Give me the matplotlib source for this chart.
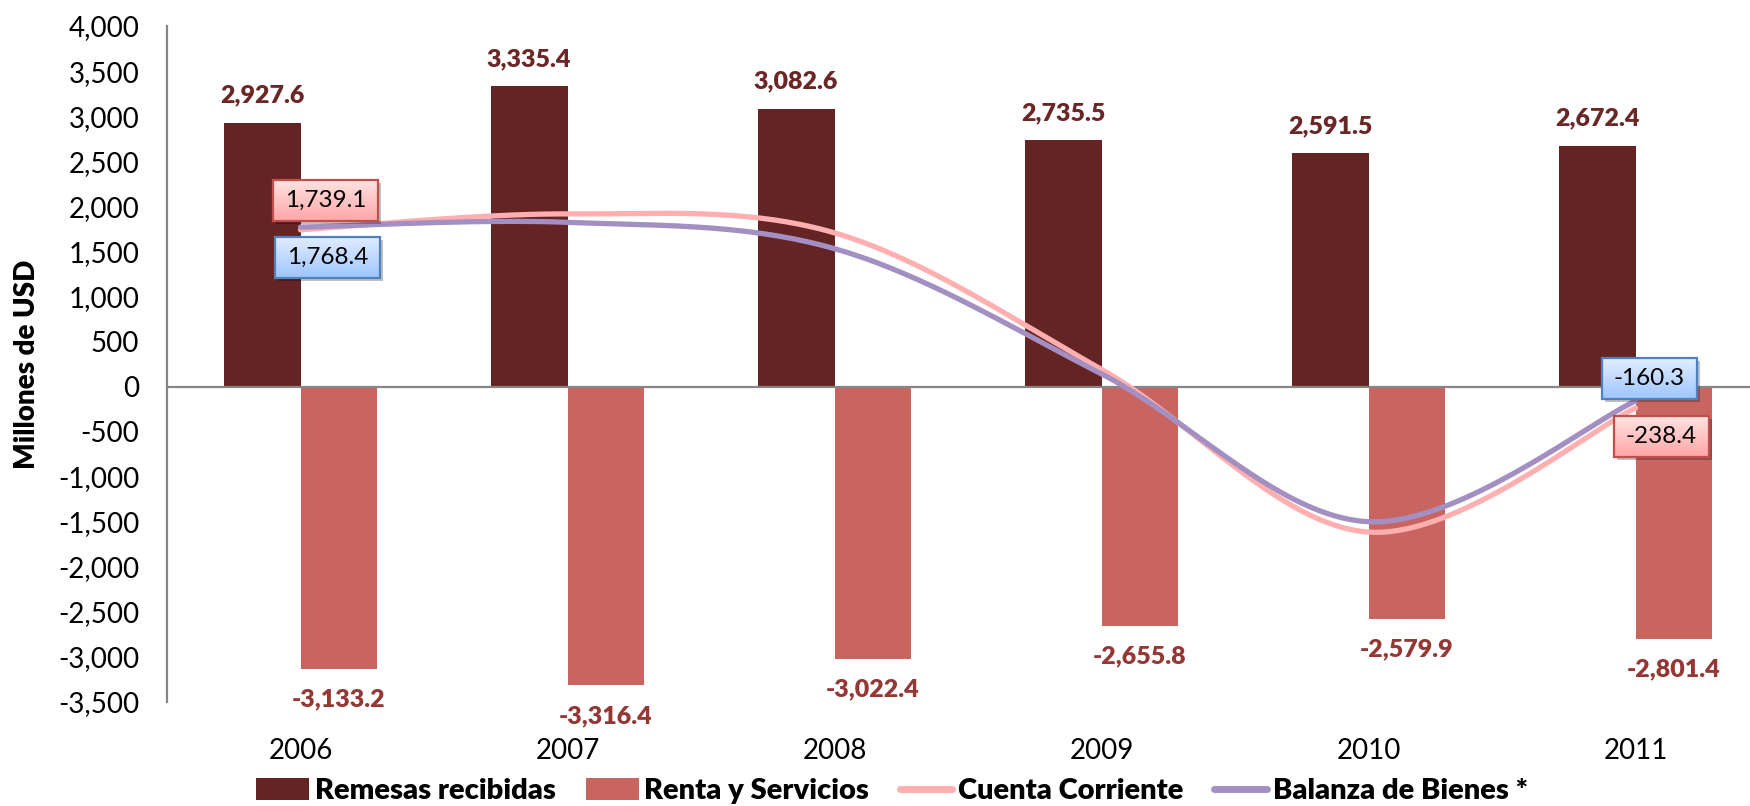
import numpy as np
import matplotlib
matplotlib.use("Agg")
import matplotlib.pyplot as plt
from matplotlib.patches import Patch, Rectangle
from matplotlib.lines import Line2D
from matplotlib.ticker import FuncFormatter, MultipleLocator

plt.rcParams['font.family'] = ['Lato', 'DejaVu Sans']

# ---- data ----
years = ['2006', '2007', '2008', '2009', '2010', '2011']
remesas = [2927.6, 3335.4, 3082.6, 2735.5, 2591.5, 2672.4]
renta = [-3133.2, -3316.4, -3022.4, -2655.8, -2579.9, -2801.4]
cuenta = [1739.1, 1915.0, 1705.0, 190.0, -1615.0, -238.4]
balanza = [1768.4, 1822.0, 1530.0, 140.0, -1500.0, -160.3]
series_names = ['Remesas recibidas', 'Renta y Servicios', 'Cuenta Corriente', 'Balanza de Bienes *']

# ---- style ----
C_DARK = '#632423'
C_LIGHT = '#C86561'
C_PINK = '#FFAFAF'
C_PURPLE = '#A48FC2'
C_LBL1 = '#6B2726'
C_LBL2 = '#953735'
GRAY = '#868686'

W, H = 1750, 806
fig = plt.figure(figsize=(W / 100, H / 100), dpi=100)
fig.patch.set_facecolor('white')
ax = fig.add_axes([167 / W, (806 - 702) / H, 1602 / W, 676 / H])

x = np.arange(len(years))
bw = 0.288
ax.bar(x - bw, remesas, width=bw, align='edge', color=C_DARK, zorder=2)
ax.bar(x, renta, width=bw, align='edge', color=C_LIGHT, zorder=2)
ax.axhline(0, color=GRAY, lw=1.6, zorder=3)


def excel_smooth(xs, ys, n=40):
    P = np.column_stack([xs, ys]).astype(float)
    out = []
    for i in range(len(P) - 1):
        p0 = P[i - 1] if i > 0 else P[i]
        p1 = P[i]
        p2 = P[i + 1]
        p3 = P[i + 2] if i + 2 < len(P) else P[i + 1]
        c1 = p1 + (p2 - p0) / 6.0
        c2 = p2 - (p3 - p1) / 6.0
        t = np.linspace(0, 1, n)[:, None]
        seg = ((1 - t) ** 3) * p1 + 3 * ((1 - t) ** 2) * t * c1 + 3 * (1 - t) * t ** 2 * c2 + t ** 3 * p2
        out.append(seg if i == 0 else seg[1:])
    return np.vstack(out)


sc = excel_smooth(x, cuenta)
sb = excel_smooth(x, balanza)
ax.plot(sc[:, 0], sc[:, 1], color=C_PINK, lw=3.8, solid_capstyle='round', zorder=4)
ax.plot(sb[:, 0], sb[:, 1], color=C_PURPLE, lw=3.8, solid_capstyle='round', zorder=4)

ax.set_xlim(-0.5, 5.5)
ax.set_ylim(-3500, 4000)
ax.yaxis.set_major_locator(MultipleLocator(500))
ax.yaxis.set_major_formatter(FuncFormatter(lambda v, p: f"{v:,.0f}"))
ax.set_xticks(x)
ax.set_xticklabels(years)
ax.tick_params(axis='y', length=0, pad=20, labelsize=20, labelcolor='black')
ax.tick_params(axis='x', length=0, pad=26, labelsize=20, labelcolor='black')
for s in ['top', 'right', 'bottom']:
    ax.spines[s].set_visible(False)
ax.spines['left'].set_color(GRAY)
ax.spines['left'].set_linewidth(1.6)
ax.set_facecolor('white')

ax.set_ylabel('Millones de USD', fontsize=20, fontweight='heavy')
ax.yaxis.set_label_coords(-0.079, 0.5)

# bar value labels
for xi, v in zip(x, remesas):
    ax.annotate(f"{v:,.1f}", (xi - bw / 2, v), xytext=(0, 19.5), textcoords='offset points',
                ha='center', va='center', fontsize=18, fontweight='heavy', color=C_LBL1, zorder=6)
for xi, v in zip(x, renta):
    ax.annotate(f"{v:,.1f}", (xi + bw / 2, v), xytext=(0, -22), textcoords='offset points',
                ha='center', va='center', fontsize=18, fontweight='heavy', color=C_LBL2, zorder=6)

# boxed line labels
renderer = fig.canvas.get_renderer()
inv = ax.transData.inverted()
PINK_STYLE = ((255, 226, 226), (255, 166, 166), '#C0504D')
BLUE_STYLE = ((226, 237, 255), (158, 198, 255), '#4F81BD')
boxes = [
    (0, cuenta[0], 25, 29, PINK_STYLE),
    (0, balanza[0], 27, -30, BLUE_STYLE),
    (5, balanza[5], 14, 22, BLUE_STYLE),
    (5, cuenta[5], 26, -28, PINK_STYLE),
]
for xi, v, dx, dy, (ctop, cbot, edge) in boxes:
    px, py = ax.transData.transform((xi, v))
    cx, cy = px + dx, py + dy
    dcx, dcy = inv.transform((cx, cy))
    t = ax.text(dcx, dcy, f"{v:,.1f}", ha='center', va='center', fontsize=17.5,
                color='black', zorder=9)
    tw = t.get_window_extent(renderer).width
    bwid, bh = tw + 24, 41
    x0, y0 = inv.transform((cx - bwid / 2, cy - bh / 2))
    x1, y1 = inv.transform((cx + bwid / 2, cy + bh / 2))
    sx0, sy0 = inv.transform((cx - bwid / 2 + 3, cy - bh / 2 - 3))
    sx1, sy1 = inv.transform((cx + bwid / 2 + 3, cy + bh / 2 - 3))
    ax.add_patch(Rectangle((sx0, sy0), sx1 - sx0, sy1 - sy0, facecolor='#000000',
                           alpha=0.25, edgecolor='none', zorder=6))
    grad = np.linspace(np.array(ctop) / 255, np.array(cbot) / 255, 50)[:, None, :]
    ax.imshow(grad, extent=[x0, x1, y0, y1], origin='upper', aspect='auto',
              interpolation='bilinear', zorder=7)
    ax.add_patch(Rectangle((x0, y0), x1 - x0, y1 - y0, facecolor='none',
                           edgecolor=edge, lw=1.6, zorder=8))

ax.set_xlim(-0.5, 5.5)
ax.set_ylim(-3500, 4000)

handles = [
    Patch(facecolor=C_DARK, edgecolor='none'),
    Patch(facecolor=C_LIGHT, edgecolor='none'),
    Line2D([0], [0], color=C_PINK, lw=5, solid_capstyle='round'),
    Line2D([0], [0], color=C_PURPLE, lw=5, solid_capstyle='round'),
]
fig.legend(handles, series_names, loc='center', bbox_to_anchor=(892 / W, (806 - 791) / H),
           ncol=4, frameon=False, prop={'size': 21, 'weight': 'heavy'},
           handlelength=1.8, handletextpad=0.2, columnspacing=1.05, handleheight=0.75)

fig.savefig('out.png', dpi=100, facecolor='white')
